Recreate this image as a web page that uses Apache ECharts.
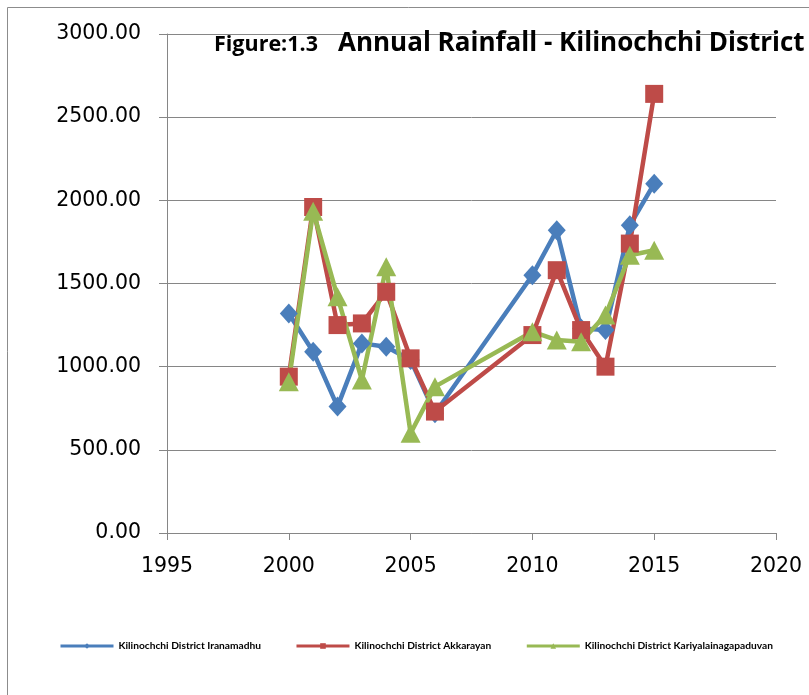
<!DOCTYPE html>
<html>
<head>
<meta charset="utf-8">
<script src="https://cdn.jsdelivr.net/npm/echarts@6/dist/echarts.min.js"></script>
<style>
html,body{margin:0;padding:0;background:#fff;}
#chart{width:809px;height:695px;}
</style>
</head>
<body>
<div id="chart"></div>
<script>
const years = [2000, 2001, 2002, 2003, 2004, 2005, 2006, 2010, 2011, 2012, 2013, 2014, 2015];
const iranamadhu = [1320, 1090, 760, 1140, 1120, 1040, 720, 1550, 1820, 1230, 1220, 1850, 2100];
const akkarayan = [940, 1960, 1250, 1260, 1450, 1050, 730, 1190, 1580, 1220, 1000, 1740, 2640];
const kariyalai = [910, 1935, 1420, 920, 1600, 600, 880, 1210, 1160, 1150, 1310, 1670, 1700];
const seriesNames = ['Kilinochchi District Iranamadhu', 'Kilinochchi District Akkarayan', 'Kilinochchi District Kariyalainagapaduvan'];
const titleSmall = 'Figure:1.3';
const titleMain = 'Annual Rainfall - Kilinochchi District';

const pair = arr => years.map((y, i) => [y, arr[i]]);
const axisGray = '#868686';

const chart = echarts.init(document.getElementById('chart'), null, {renderer: 'canvas'});
const mk = (name, arr, color, symbol, size) => ({
  name: name,
  type: 'line',
  data: pair(arr),
  color: color,
  symbol: symbol,
  symbolSize: size,
  showAllSymbol: true,
  lineStyle: {width: 4.5, color: color},
  itemStyle: {color: color},
  animation: false
});
chart.setOption({
  backgroundColor: '#fff',
  animation: false,
  grid: {left: 167, right: 33, top: 34, bottom: 162, containLabel: false},
  xAxis: {
    type: 'value', min: 1995, max: 2020, interval: 5,
    axisLine: {show: true, lineStyle: {color: axisGray, width: 1}},
    axisTick: {show: true, length: 7, lineStyle: {color: axisGray}},
    splitLine: {show: false},
    axisLabel: {color: '#000', fontFamily: 'DejaVu Sans', fontSize: 20.5, margin: 23,
      formatter: v => String(v)}
  },
  yAxis: {
    type: 'value', min: 0, max: 3000, interval: 500,
    axisLine: {show: true, lineStyle: {color: axisGray, width: 1}},
    axisTick: {show: true, length: 8, lineStyle: {color: axisGray}},
    splitLine: {show: true, lineStyle: {color: axisGray, width: 1}},
    axisLabel: {color: '#000', fontFamily: 'DejaVu Sans', fontSize: 20.5, margin: 26,
      formatter: v => v.toFixed(2)}
  },
  legend: {
    left: 59, top: 641, orient: 'horizontal', padding: 0,
    itemWidth: 53, itemHeight: 7, itemGap: 34,
    lineStyle: {width: 3},
    textStyle: {color: '#000', fontFamily: 'Lato', fontWeight: 'bold', fontSize: 10.2},
    data: seriesNames
  },
  graphic: [
    {type: 'rect', shape: {x: 7.5, y: 7.5, width: 900, height: 800},
     style: {fill: 'none', stroke: '#8c8c8c', lineWidth: 1}, silent: true, z: -10},
    {type: 'text', x: 214, y: 45, style: {text: titleSmall, fill: '#000',
      font: 'bold 21.5px "Open Sans"', verticalAlign: 'middle', align: 'left'}, z: 10},
    {type: 'text', x: 338, y: 44, style: {text: titleMain, fill: '#000',
      font: 'bold 26px "Open Sans"', verticalAlign: 'middle', align: 'left'}, z: 10}
  ],
  series: [
    mk(seriesNames[0], iranamadhu, '#4A7EBB', 'diamond', [18, 20]),
    mk(seriesNames[1], akkarayan, '#BE4B48', 'rect', 18),
    mk(seriesNames[2], kariyalai, '#98B954', 'triangle', [20, 19])
  ]
});
</script>
</body>
</html>
